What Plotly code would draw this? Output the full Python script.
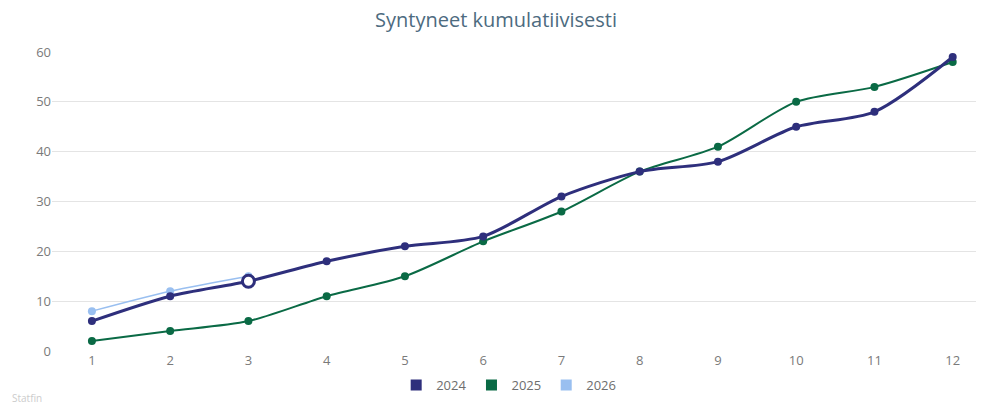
import plotly.graph_objects as go

kuukaudet = list(range(1, 13))
v2024 = [6, 11, 14, 18, 21, 23, 31, 36, 38, 45, 48, 59]
v2025 = [2, 4, 6, 11, 15, 22, 28, 36, 41, 50, 53, 58]
v2026 = [8, 12, 15]
korostettu = 2  # hovered point of 2024 (month 3)

VARIT = {"2024": "#2e2f7c", "2025": "#0a6a45", "2026": "#99bff0"}

fig = go.Figure()

fig.add_trace(go.Scatter(
    x=kuukaudet[:len(v2026)], y=v2026, mode="lines+markers", showlegend=False,
    line=dict(color=VARIT["2026"], width=1.5, shape="spline", smoothing=0.8),
    marker=dict(color=VARIT["2026"], size=8)
))
fig.add_trace(go.Scatter(
    x=kuukaudet, y=v2025, mode="lines+markers", showlegend=False,
    line=dict(color=VARIT["2025"], width=2, shape="spline", smoothing=0.8),
    marker=dict(color=VARIT["2025"], size=8)
))
fig.add_trace(go.Scatter(
    x=kuukaudet, y=v2024, mode="lines+markers", showlegend=False,
    line=dict(color=VARIT["2024"], width=3, shape="spline", smoothing=0.8),
    marker=dict(color=VARIT["2024"], size=8)
))
# hover ring
fig.add_trace(go.Scatter(
    x=[kuukaudet[korostettu]], y=[v2024[korostettu]], mode="markers",
    showlegend=False,
    marker=dict(color="white", size=12, symbol="circle",
                line=dict(color=VARIT["2024"], width=3))
))

# legend entries with square symbols
for nimi, vari in VARIT.items():
    fig.add_trace(go.Scatter(
        x=[None], y=[None], mode="markers", name=nimi,
        marker=dict(color=vari, symbol="square", size=11)
    ))

# the page body adds an 8px margin, so the figure is 8px smaller each way
fig.update_layout(
    width=976, height=400,
    paper_bgcolor="white", plot_bgcolor="white",
    margin=dict(t=44, b=57, l=44, r=0),
    font=dict(family="Open Sans, sans-serif", color="#7a7a7a"),
    title=dict(text="Syntyneet kumulatiivisesti", x=0.5, xanchor="center",
               y=0.97, yanchor="middle",
               font=dict(size=20, color="#4d6b7f")),
    xaxis=dict(range=[0.49, 12.4], tickvals=kuukaudet, showgrid=False,
               zeroline=False, showline=False, ticks="",
               tickfont=dict(size=13, color="#7a7a7a")),
    yaxis=dict(range=[0, 60], tickvals=[0, 10, 20, 30, 40, 50, 60],
               gridcolor="#e4e4e4", gridwidth=1, zeroline=False,
               ticks="", ticklen=0, tickfont=dict(size=13, color="#7a7a7a")),
    legend=dict(orientation="h", x=0.49, xanchor="center", y=-0.114,
                yanchor="middle", font=dict(size=13, color="#6e6e6e"),
                tracegroupgap=0),
    showlegend=True,
)

fig.add_annotation(text="Statfin", xref="paper", yref="paper",
                   x=-0.045, y=-0.157, xanchor="left", yanchor="middle",
                   showarrow=False, font=dict(size=10, color="#cccccc"))

fig.write_html("out.html")
